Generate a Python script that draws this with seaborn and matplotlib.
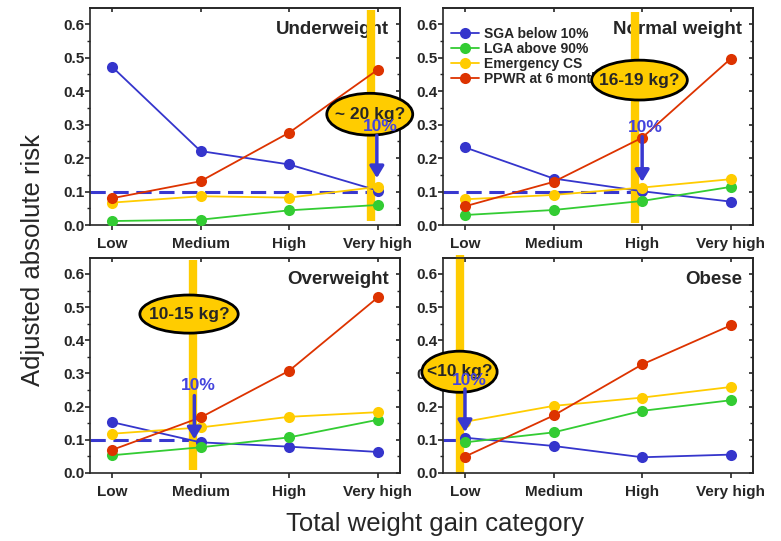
"""
Adjusted absolute risk of four pregnancy outcomes by total weight gain
category, one panel per pre-pregnancy BMI group.
"""

import matplotlib.pyplot as plt
import numpy as np
import pandas as pd
import seaborn as sns
from matplotlib.lines import Line2D
from matplotlib.patches import Ellipse
from matplotlib.ticker import MultipleLocator

# ── Data ──────────────────────────────────────────────────────────────
categories = ["Low", "Medium", "High", "Very high"]
panels = ["Underweight", "Normal weight", "Overweight", "Obese"]
outcomes = ["SGA below 10%", "LGA above 90%", "Emergency CS", "PPWR at 6 months"]

# one row per panel, one value per weight gain category
sga = [
    [0.473, 0.221, 0.181, 0.103],
    [0.232, 0.139, 0.101, 0.070],
    [0.153, 0.092, 0.079, 0.063],
    [0.106, 0.081, 0.047, 0.055],
]
lga = [
    [0.012, 0.016, 0.044, 0.060],
    [0.030, 0.045, 0.072, 0.114],
    [0.053, 0.077, 0.107, 0.160],
    [0.092, 0.122, 0.187, 0.219],
]
ecs = [
    [0.067, 0.086, 0.082, 0.114],
    [0.077, 0.090, 0.112, 0.137],
    [0.118, 0.137, 0.169, 0.183],
    [0.154, 0.202, 0.227, 0.259],
]
ppwr = [
    [0.080, 0.131, 0.276, 0.464],
    [0.056, 0.129, 0.261, 0.497],
    [0.069, 0.167, 0.308, 0.529],
    [0.049, 0.173, 0.327, 0.445],
]
gain_labels = ["~ 20 kg?", "16-19 kg?", "10-15 kg?", "<10 kg?"]
threshold = 0.1

# ── Style ─────────────────────────────────────────────────────────────
sns.set_style("ticks")
plt.rcParams["font.family"] = ["Liberation Sans", "DejaVu Sans"]
plt.rcParams["axes.linewidth"] = 1.2

colors = {
    "SGA below 10%": "#3535cc",
    "LGA above 90%": "#33cc33",
    "Emergency CS": "#ffcc00",
    "PPWR at 6 months": "#dd3300",
}
BLUE = "#3838d0"
YELLOW = "#ffcc00"

# axes box, yellow band, ellipse, "10%" label and arrow for each panel
layout = [
    dict(pos=[0.115, 0.584, 0.397, 0.401], band=2.92, band_y=(0.012, 0.642),
         ell=(2.91, 0.331, 0.97, 0.125), pct=(3.03, 0.293),
         arrow=(2.99, 0.268, 0.14), dash_end=2.92),
    dict(pos=[0.567, 0.584, 0.397, 0.401], band=1.92, band_y=(0.007, 0.637),
         ell=(1.97, 0.433, 1.08, 0.119), pct=(2.04, 0.29),
         arrow=(2.0, 0.264, 0.129), dash_end=1.9),
    dict(pos=[0.115, 0.126, 0.397, 0.397], band=0.92, band_y=(0.009, 0.641),
         ell=(0.87, 0.479, 1.11, 0.115), pct=(0.98, 0.263),
         arrow=(0.93, 0.233, 0.101), dash_end=0.88),
    dict(pos=[0.567, 0.126, 0.397, 0.397], band=-0.06, band_y=(-0.003, 0.657),
         ell=(-0.062, 0.305, 0.85, 0.124), pct=(0.05, 0.278),
         arrow=(0.0, 0.253, 0.123), dash_end=-0.06),
]


def build_frame() -> pd.DataFrame:
    rows = []
    for p, panel in enumerate(panels):
        for name, series in zip(outcomes, [sga, lga, ecs, ppwr]):
            for i, cat in enumerate(categories):
                rows.append(dict(panel=panel, outcome=name, x=i,
                                 category=cat, risk=series[p][i]))
    return pd.DataFrame(rows)


def style_axes(ax):
    ax.set_xlim(-0.25, 3.25)
    ax.set_ylim(0, 0.648)
    ax.set_xticks(range(len(categories)))
    ax.set_xticklabels(categories, fontsize=11, fontweight="bold")
    yt = np.round(np.arange(0, 0.61, 0.1), 1)
    ax.set_yticks(yt)
    ax.set_yticklabels([f"{v:.1f}" for v in yt], fontsize=11, fontweight="bold")
    ax.yaxis.set_minor_locator(MultipleLocator(0.05))
    ax.tick_params(axis="y", which="major", direction="out", length=3.5,
                   width=1.2, pad=0.5)
    ax.tick_params(axis="y", which="minor", direction="out", length=2,
                   width=1.0)
    ax.tick_params(axis="x", direction="out", length=3.5, width=1.2, pad=5)
    ax.set_xlabel("")
    ax.set_ylabel("")

    right = ax.secondary_yaxis("right")
    right.set_yticks(yt)
    right.yaxis.set_minor_locator(MultipleLocator(0.05))
    right.tick_params(which="major", direction="in", length=3, width=1.2,
                      labelright=False)
    right.tick_params(which="minor", direction="in", length=2, width=1.0)

    top = ax.secondary_xaxis("top")
    top.set_xticks(range(len(categories)))
    top.tick_params(direction="in", length=3, width=1.2, labeltop=False)

    for spine in ax.spines.values():
        spine.set_visible(True)
        spine.set_linewidth(1.2)


def main() -> None:
    df = build_frame()
    fig = plt.figure(figsize=(7.81, 5.41), dpi=100)

    for p, panel in enumerate(panels):
        lay = layout[p]
        ax = fig.add_axes(lay["pos"])
        sub = df[df["panel"] == panel]

        sns.lineplot(
            data=sub, x="x", y="risk", hue="outcome", hue_order=outcomes,
            palette=colors, marker="o", markersize=8, markeredgewidth=0,
            linewidth=1.3, legend=False, ax=ax, zorder=3,
        )
        style_axes(ax)

        ax.text(0.965, 0.9, panel, transform=ax.transAxes, ha="right",
                va="center", fontsize=13.5, fontweight="bold", zorder=1)

        # 10% reference line up to the recommended gain band
        ax.plot([-0.25, lay["dash_end"]], [threshold, threshold], color=BLUE,
                lw=2.2, dashes=(5, 2.5), zorder=2)

        # recommended gain band
        ax.plot([lay["band"], lay["band"]], lay["band_y"], color=YELLOW,
                lw=6, solid_capstyle="butt", zorder=2.5, clip_on=False)

        cx, cy, w, h = lay["ell"]
        ax.add_patch(Ellipse((cx, cy), w, h, facecolor=YELLOW,
                             edgecolor="black", lw=2, zorder=6, clip_on=False))
        ax.text(cx, cy, gain_labels[p], ha="center", va="center",
                fontsize=12.5, fontweight="bold", zorder=7)

        ax.text(*lay["pct"], "10%", ha="center", va="center", color="#4444dd",
                fontsize=12.5, fontweight="bold", zorder=8)
        axx, y0, y1 = lay["arrow"]
        ax.annotate(
            "", xy=(axx, y1), xytext=(axx, y0),
            arrowprops=dict(arrowstyle="-|>,head_length=0.5,head_width=0.3",
                            color=BLUE, lw=2.5, shrinkA=0, shrinkB=0,
                            mutation_scale=14),
            zorder=8, annotation_clip=False,
        )

        if p == 1:
            handles = [
                Line2D([], [], color=colors[o], marker="o", markersize=8,
                       markeredgewidth=0, lw=1.3)
                for o in outcomes
            ]
            leg = ax.legend(handles, outcomes, loc="upper left",
                            bbox_to_anchor=(0.01, 0.94), frameon=False,
                            prop=dict(weight="bold", size=10),
                            handlelength=2.0, handletextpad=0.35,
                            labelspacing=0.08, borderaxespad=0)
            leg.set_zorder(4)

    fig.text(0.042, 0.52, "Adjusted absolute risk", rotation=90,
             ha="center", va="center", fontsize=18.5)
    fig.text(0.557, 0.031, "Total weight gain category", ha="center",
             va="center", fontsize=18.5)

    fig.savefig("out.png", dpi=100)
    plt.close(fig)


if __name__ == "__main__":
    main()
